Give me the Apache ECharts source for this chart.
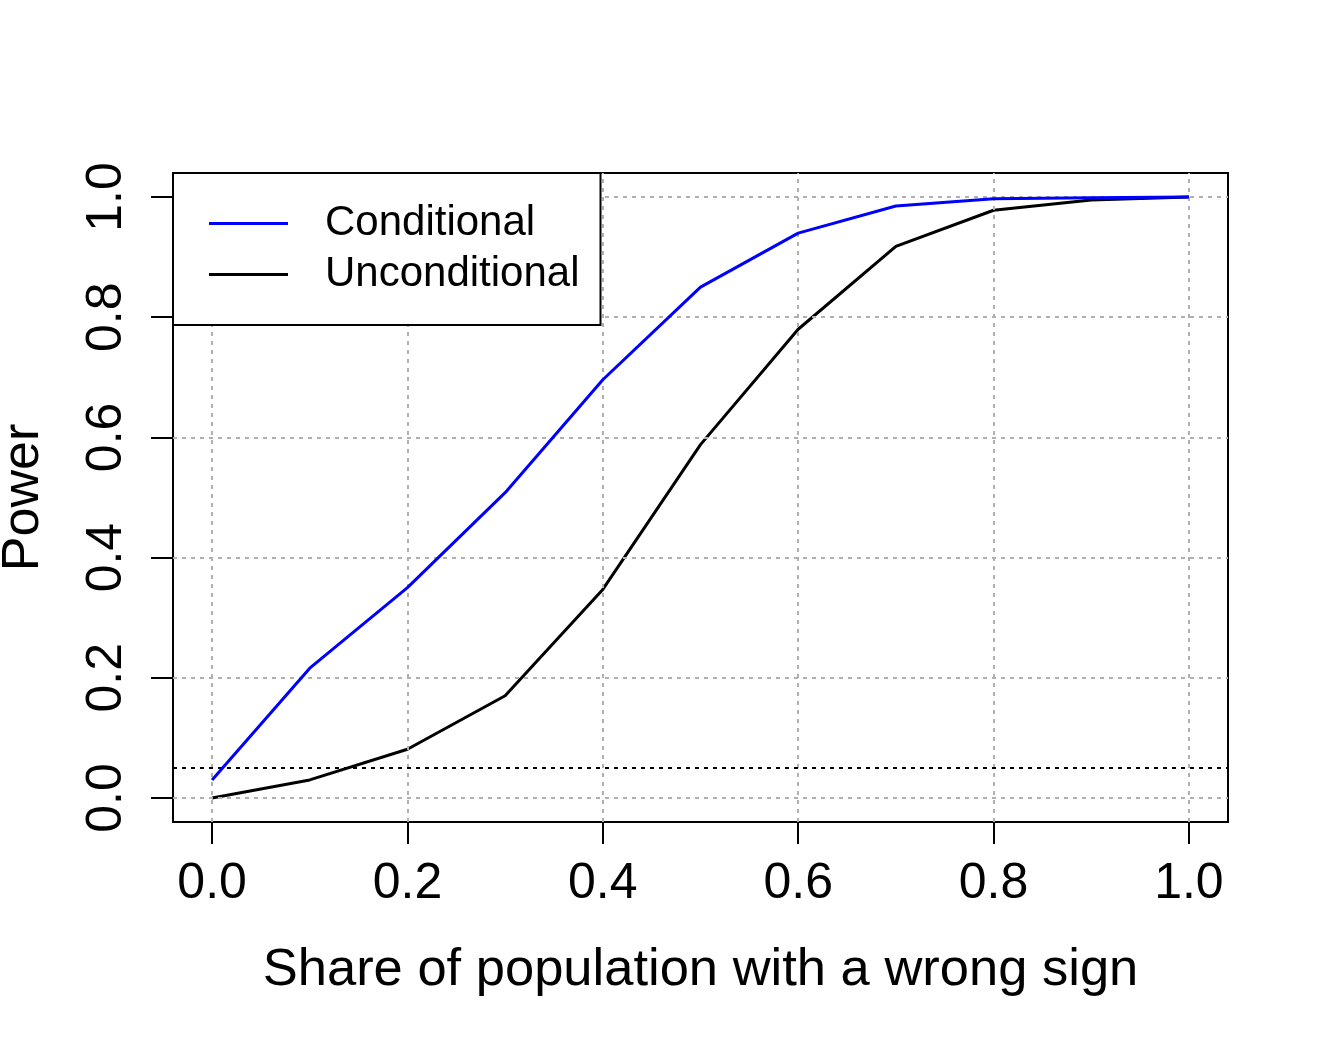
<!DOCTYPE html>
<html>
<head>
<meta charset="utf-8">
<script src="https://cdn.jsdelivr.net/npm/echarts@6/dist/echarts.min.js"></script>
<style>
html,body{margin:0;padding:0;background:#fff;}
#chart{width:1317px;height:1038px;}
</style>
</head>
<body>
<div id="chart"></div>
<script>
const shares = [0.0, 0.1, 0.2, 0.3, 0.4, 0.5, 0.6, 0.7, 0.8, 0.9, 1.0];
const conditional = [0.030, 0.216, 0.350, 0.508, 0.696, 0.850, 0.940, 0.985, 0.997, 0.999, 1.000];
const unconditional = [0.000, 0.030, 0.081, 0.170, 0.347, 0.588, 0.780, 0.918, 0.978, 0.995, 1.000];
const xTicks = [0, 0.2, 0.4, 0.6, 0.8, 1.0];
const yTicks = [0, 0.2, 0.4, 0.6, 0.8, 1.0];
const alphaLevel = 0.05;

const FONT = "'Liberation Sans', Arial, sans-serif";
const chart = echarts.init(document.getElementById('chart'));
const pairs = (ys) => shares.map((x, i) => [x, ys[i]]);
const gridStyle = {color: '#b0b0b0', width: 2, type: [4, 5]};

chart.setOption({
  animation: false,
  backgroundColor: '#fff',
  grid: {left: 173, right: 89, top: 173, bottom: 216, show: true, borderColor: '#000', borderWidth: 2,
         backgroundColor: 'transparent', containLabel: false, outerBoundsMode: 'none'},
  legend: {
    left: 173, top: 173,
    orient: 'vertical',
    data: ['Conditional', 'Unconditional'],
    icon: 'rect',
    itemWidth: 79, itemHeight: 3, itemGap: 0,
    padding: [25, 21, 25, 36],
    borderColor: '#000', borderWidth: 2, borderRadius: 0,
    backgroundColor: '#fff',
    textStyle: {fontFamily: FONT, fontSize: 42, color: '#000', lineHeight: 47, padding: [4, 0, 0, 32]},
    selectedMode: false,
    z: 10
  },
  xAxis: {
    type: 'value', min: -0.04, max: 1.04,
    axisLine: {show: false, onZero: false},
    splitLine: {show: false},
    axisTick: {show: true, customValues: xTicks, length: 22, inside: false, lineStyle: {color: '#000', width: 2}},
    axisLabel: {customValues: xTicks, formatter: v => v.toFixed(1), fontFamily: FONT, fontSize: 50, color: '#000', margin: 37},
    name: 'Share of population with a wrong sign',
    nameLocation: 'middle', nameGap: 122,
    nameTextStyle: {fontFamily: FONT, fontSize: 52.5, color: '#000'}
  },
  yAxis: {
    type: 'value', min: -0.04, max: 1.04,
    axisLine: {show: false, onZero: false},
    splitLine: {show: false},
    axisTick: {show: true, customValues: yTicks, length: 22, inside: false, lineStyle: {color: '#000', width: 2}},
    axisLabel: {customValues: yTicks, formatter: v => v.toFixed(1), fontFamily: FONT, fontSize: 50, color: '#000', margin: 41, rotate: 90},
    name: 'Power',
    nameLocation: 'middle', nameGap: 123, nameRotate: 90,
    nameTextStyle: {fontFamily: FONT, fontSize: 52, color: '#000'}
  },
  series: [
    {
      name: 'grid', type: 'line', data: [], z: 1, silent: true,
      markLine: {
        silent: true, symbol: ['none', 'none'], animation: false,
        label: {show: false},
        lineStyle: gridStyle,
        data: xTicks.map(v => ({xAxis: v})).concat(yTicks.map(v => ({yAxis: v})))
      }
    },
    {
      name: 'alpha', type: 'line', data: [], z: 2, silent: true,
      markLine: {
        silent: true, symbol: ['none', 'none'], animation: false,
        label: {show: false},
        lineStyle: {color: '#000', width: 2, type: [4, 5]},
        data: [{yAxis: alphaLevel}]
      }
    },
    {
      name: 'Conditional', type: 'line', data: pairs(conditional),
      showSymbol: false, symbol: 'none', z: 5,
      itemStyle: {color: '#0000ff'},
      lineStyle: {color: '#0000ff', width: 3}
    },
    {
      name: 'Unconditional', type: 'line', data: pairs(unconditional),
      showSymbol: false, symbol: 'none', z: 4,
      itemStyle: {color: '#000'},
      lineStyle: {color: '#000', width: 3}
    }
  ]
});
</script>
</body>
</html>
